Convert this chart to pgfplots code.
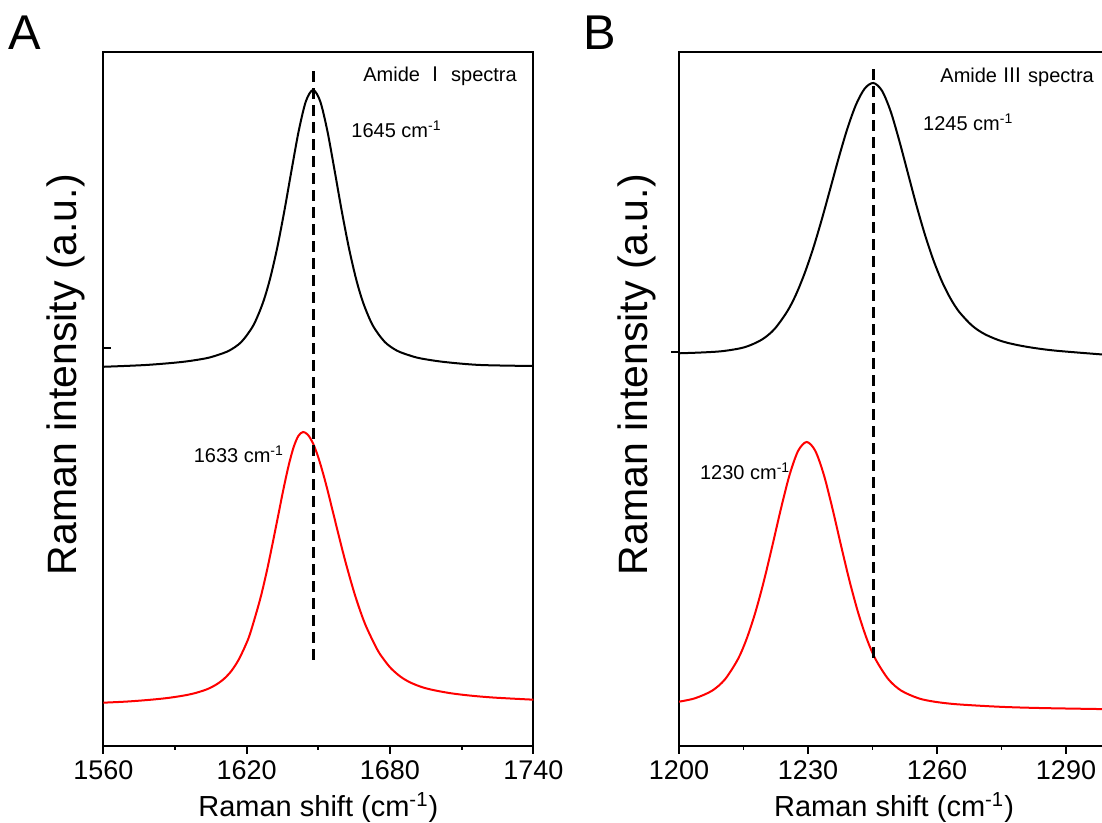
\documentclass[border=0pt]{standalone}
\usepackage{pgfplots}
\pgfplotsset{compat=1.18}
\usepackage{fontspec}
\setmainfont{Liberation Sans}
\newfontfamily\cjk{Noto Sans CJK SC}

\pgfplotsset{
  ramanstyle/.style={
    scale only axis, width=215pt, height=347pt,
    axis line style={line width=0.9pt},
    every tick/.style={black, line width=0.9pt},
    xtick pos=left, ytick pos=left,
    major tick length=4pt, minor tick length=2pt,
    minor x tick num=1,
    yticklabels={},
    tick label style={font=\fontsize{13.5}{14}\selectfont},
    /pgf/number format/assume math mode=true,
    /pgf/number format/1000 sep={},
    xticklabel style={anchor=base, yshift=-13pt},
    xlabel style={font=\fontsize{14.5}{16}\selectfont, at={(axis description cs:0.5,0)}, anchor=base, yshift=-35.3pt},
    ylabel style={font=\fontsize{20.5}{22}\selectfont, anchor=base},
  },
}
\tikzset{
  annot/.style={anchor=base west, inner sep=0pt, font=\fontsize{10}{12}\selectfont},
  vline/.style={black, line width=1.5pt, dash pattern=on 5.5pt off 3pt},
}

\begin{document}
\begin{tikzpicture}
% ---------------- Panel A ----------------
\begin{axis}[ramanstyle,
  at={(51.65pt,38.5pt)}, anchor=south west,
  xmin=1560, xmax=1740, ymin=2, ymax=696,
  xtick={1560,1620,1680,1740},
  xtick align=outside, ytick align=inside,
  ytick={400},
  xlabel={Raman shift (cm\textsuperscript{-1})},
  ylabel={Raman intensity (a.u.)},
  ylabel style={at={(axis description cs:-0.0612,0.535)}},
]
\addplot[black, line width=1pt, smooth] coordinates {
(1560,381.2) (1577.8,383) (1592.8,386) (1602.8,389.6) (1607.8,392.9) (1612.8,397.5)
(1617.8,406.1) (1622.8,422.6) (1626.8,445.1) (1629.8,469.2) (1632.8,500.2) (1635.8,537.2)
(1638.8,577.8) (1641.8,617) (1644.8,646.7) (1647.8,658) (1650.8,646.7) (1653.8,617)
(1656.8,577.8) (1659.8,537.2) (1662.8,500.2) (1665.8,469.2) (1668.8,445.1) (1672.8,422.6)
(1677.8,406.1) (1682.8,397.5) (1687.8,392.9) (1692.8,389.6) (1702.8,386) (1717.8,383) (1740,382)
};
\addplot[red, line width=1pt, smooth] coordinates {
(1560,45.3) (1569.6,46.4) (1578.6,48) (1586.6,49.9) (1593.6,52.4) (1598.6,55) (1603.6,58.9)
(1607.6,63.9) (1610.6,69.3) (1613.6,77) (1616.6,88) (1619.6,103) (1621.6,115.5) (1625.6,148.3) (1628.6,178.5)
(1631.6,213.2) (1633.6,237.2) (1635.6,261) (1637.6,282.6) (1639.6,300.3) (1641.6,311.9)
(1643.6,316) (1645.6,313.3) (1647.6,305.6) (1649.6,293.5) (1651.6,277.9) (1653.6,260.3)
(1656.6,231.4) (1659.6,202.5) (1662.1,179.8) (1665.6,151) (1669.6,123.9) (1674.6,98.8)
(1677.6,88) (1680.6,79.2) (1684.6,71) (1688.6,65.4) (1693.6,60.7) (1698.6,57.7) (1705.6,54.7)
(1713.6,52.4) (1723.6,50.4) (1740,48.3)
};
\addplot[vline] coordinates {(1647.8,88) (1647.8,681)};
\node[annot] at (axis cs:1668.7,666) {Amide {\cjk Ⅰ} spectra};
\node[annot] at (axis cs:1663.7,610) {1645 cm\textsuperscript{-1}};
\node[annot] at (axis cs:1597.7,285) {1633 cm\textsuperscript{-1}};
\end{axis}
% ---------------- Panel B ----------------
\begin{axis}[ramanstyle,
  at={(339.5pt,38.5pt)}, anchor=south west,
  xmin=1200, xmax=1300, ymin=0, ymax=694,
  xtick={1200,1230,1260,1290},
  xtick align=outside, ytick align=outside,
  ytick={394},
  xlabel={Raman shift (cm\textsuperscript{-1})},
  ylabel={Raman intensity (a.u.)},
  ylabel style={at={(axis description cs:-0.0744,0.535)}},
]
\addplot[black, line width=1pt, smooth] coordinates {
(1200,392.7) (1205.2,393.5) (1210.2,394.9) (1215.2,398.7) (1219.2,406.2) (1222.2,416.9)
(1225.2,434.8) (1227.2,451.4) (1229.2,472.5) (1231.2,497.6) (1233.2,526.5) (1235.2,557.6)
(1237.2,589) (1239.2,618) (1241.2,641.7) (1243.2,657.5) (1245.2,663)
(1247.2,655.3) (1249.2,634.9) (1251.2,605.7) (1253.2,573.3) (1255.2,540.9) (1257.2,511.2)
(1259.2,485.4) (1261.2,464) (1263.2,447) (1265.2,433.9) (1268.2,420.2) (1271.2,411.6)
(1275.2,404.6) (1280.2,399.7) (1287.2,395.5) (1300,391)
};
\addplot[red, line width=1pt, smooth] coordinates {
(1200,44.3) (1203.7,47.7) (1207.7,55.3) (1210.7,66.7) (1213.7,86.8) (1215.7,106.8)
(1217.7,132.8) (1219.7,164.3) (1221.7,200.1) (1223.7,237.2) (1225.7,270.9) (1227.7,295.1)
(1229.7,304) (1231.7,295.1) (1233.7,270.9) (1235.7,237.2) (1237.7,200.1) (1239.7,164.3)
(1241.7,132.8) (1243.7,106.8) (1245.7,86.8) (1248.7,66.7) (1251.7,55.3) (1255.7,47.7)
(1259.4,44.3) (1264.7,41.7) (1274.7,39.2) (1284.7,37.9) (1300,36.8)
};
\addplot[vline] coordinates {(1245.2,88) (1245.2,679)};
\node[annot] at (axis cs:1260.7,663.3) {Amide {\cjk Ⅲ} spectra};
\node[annot] at (axis cs:1256.7,615) {1245 cm\textsuperscript{-1}};
\node[annot] at (axis cs:1204.8,266) {1230 cm\textsuperscript{-1}};
\end{axis}
\node[anchor=base, inner sep=0pt, font=\fontsize{24.4}{26}\selectfont] at (12.5pt,386.5pt) {A};
\node[anchor=base, inner sep=0pt, font=\fontsize{24.4}{26}\selectfont] at (300pt,386.5pt) {B};
\pgfresetboundingbox
\path[use as bounding box] (0,0) rectangle (551pt,411.5pt);
\end{tikzpicture}
\end{document}
